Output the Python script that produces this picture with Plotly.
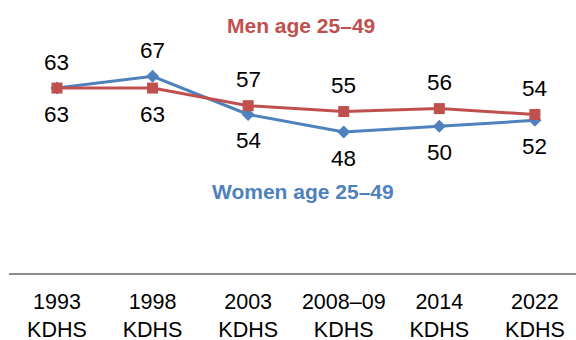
import plotly.graph_objects as go

# Survey rounds and percentages by sex
surveys = ["1993<br>KDHS", "1998<br>KDHS", "2003<br>KDHS", "2008–09<br>KDHS", "2014<br>KDHS", "2022<br>KDHS"]
men = [63, 63, 57, 55, 56, 54]
women = [63, 67, 54, 48, 50, 52]
# Which side of the point each value label sits on (+1 above, -1 below)
men_label_side = [-1, -1, 1, 1, 1, 1]
women_label_side = [1, 1, -1, -1, -1, -1]

RED = "#C0504D"
BLUE = "#4F81BD"
FONT = "Liberation Sans, Arial, sans-serif"

xs = list(range(len(surveys)))

fig = go.Figure()
fig.add_trace(go.Scatter(
    x=xs, y=women, mode="lines+markers",
    line=dict(color=BLUE, width=3),
    marker=dict(symbol="diamond", size=10, color=BLUE),
    name="Women age 25–49", hoverinfo="skip"))
fig.add_trace(go.Scatter(
    x=xs, y=men, mode="lines+markers",
    line=dict(color=RED, width=3),
    marker=dict(symbol="square", size=11, color=RED),
    name="Men age 25–49", hoverinfo="skip"))

annotations = []
for vals, sides in ((men, men_label_side), (women, women_label_side)):
    for i, (v, s) in enumerate(zip(vals, sides)):
        annotations.append(dict(
            x=i, y=v, text=str(v), showarrow=False, yshift=26 * s,
            font=dict(family=FONT, size=22.5, color="black")))

# Series names placed beside their lines
annotations.append(dict(x=2.552, y=84.4, text="<b>Men age 25–49</b>", showarrow=False,
                        font=dict(family=FONT, size=21, color=RED)))
annotations.append(dict(x=2.573, y=27.6, text="<b>Women age 25–49</b>", showarrow=False,
                        font=dict(family=FONT, size=21, color=BLUE)))

fig.update_layout(
    width=576, height=340,
    margin=dict(l=9, r=0, t=0, b=67),
    paper_bgcolor="white", plot_bgcolor="white",
    showlegend=False,
    annotations=annotations,
    xaxis=dict(
        range=[-0.502, 5.43], tickmode="array", tickvals=xs, ticktext=surveys,
        showgrid=False, zeroline=False, showline=True, linecolor="#8c8c8c", linewidth=1.5,
        ticks="", tickfont=dict(family=FONT, size=21.5, color="black"),
        ticklabelstandoff=8, automargin=False, fixedrange=True),
    yaxis=dict(range=[0, 93], visible=False, fixedrange=True),
)

fig.write_html("out.html")
